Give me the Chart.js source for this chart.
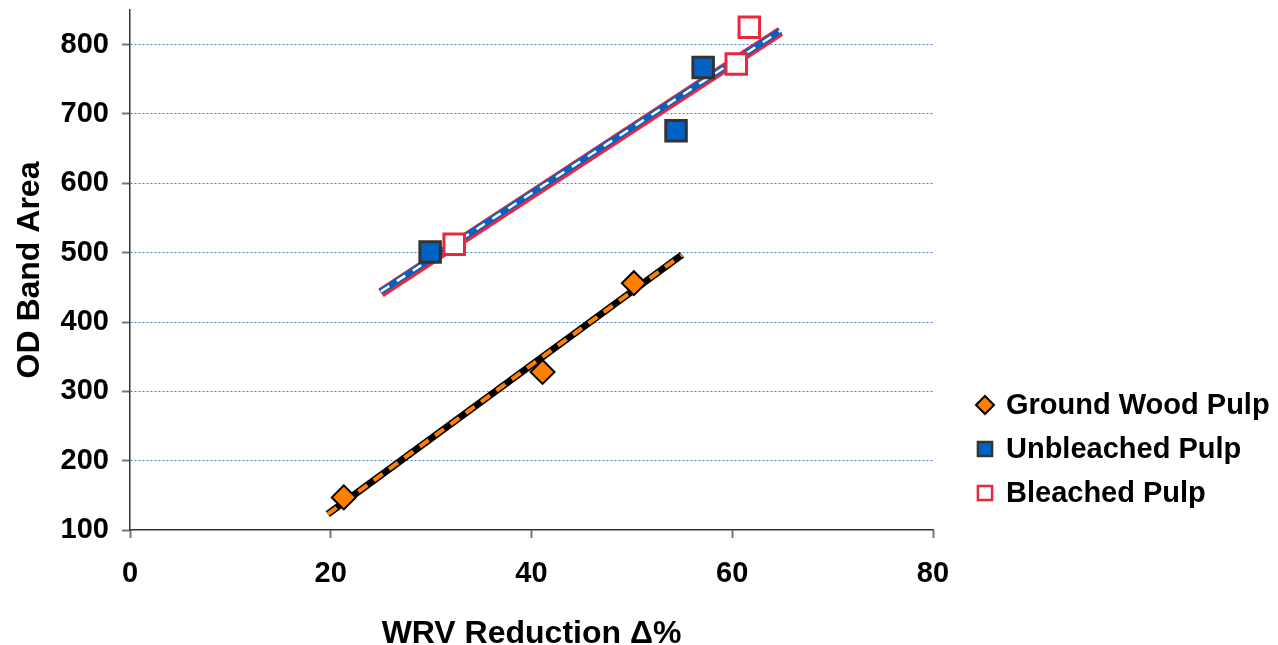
<!DOCTYPE html>
<html>
<head>
<meta charset="utf-8">
<script src="https://cdn.jsdelivr.net/npm/chart.js@4.4.1/dist/chart.umd.min.js"></script>
<style>
  html, body { margin: 0; padding: 0; background: #fff; }
  #wrap { width: 1278px; height: 645px; }
</style>
</head>
<body>
<div id="wrap"><canvas id="myChart"></canvas></div>
<script>
const seriesNames = ['Ground Wood Pulp', 'Unbleached Pulp', 'Bleached Pulp'];
const groundX = [21.3, 41.1, 50.2];
const groundY = [147, 328, 456];
const unbleachedX = [29.9, 54.4, 57.1];
const unbleachedY = [501, 676, 767];
const bleachedX = [32.3, 60.4, 61.7];
const bleachedY = [512, 772, 825];
// trend line end points
const groundTrendX = [19.7, 55.0];
const groundTrendY = [123, 497];
const unbleachedTrendX = [25.0, 64.8];
const unbleachedTrendY = [444, 820];
const bleachedTrendX = [25.0, 64.8];
const bleachedTrendY = [442, 819];
const xTicks = [0, 20, 40, 60, 80];
const yTicks = [100, 200, 300, 400, 500, 600, 700, 800];

const FONT = "'Liberation Sans', Arial, sans-serif";
const ORANGE = '#ff8000';
const BLUE = '#0062c4';
const RED = '#e8283c';

function pts(xs, ys) {
    return xs.map((x, i) => ({x: x, y: ys[i]}));
}

// legend drawn at the right, like the original
const sideLegend = {
    id: 'sideLegend',
    afterDraw(chart) {
        const ctx = chart.ctx;
        const styles = [
            {pointStyle: 'rectRot', radius: 9, fill: ORANGE, stroke: '#000', bw: 2},
            {pointStyle: 'rect', radius: 10, fill: BLUE, stroke: '#333', bw: 2.5},
            {pointStyle: 'rect', radius: 10, fill: '#fff', stroke: RED, bw: 2.5}
        ];
        ctx.save();
        ctx.font = 'bold 29px ' + FONT;
        ctx.textBaseline = 'middle';
        ctx.textAlign = 'left';
        seriesNames.forEach((name, i) => {
            const y = 405 + i * 44;
            const s = styles[i];
            ctx.fillStyle = s.fill;
            ctx.strokeStyle = s.stroke;
            ctx.lineWidth = s.bw;
            Chart.helpers.drawPoint(ctx, {pointStyle: s.pointStyle, radius: s.radius, rotation: 0, borderWidth: s.bw}, 985, y);
            ctx.fillStyle = '#000';
            ctx.fillText(name, 1006, y + 1);
        });
        ctx.restore();
    }
};

const ctx = document.getElementById('myChart').getContext('2d');
const myChart = new Chart(ctx, {
    type: 'scatter',
    data: {
        datasets: [
            {
                label: seriesNames[0],
                data: pts(groundX, groundY),
                pointStyle: 'rectRot',
                pointRadius: 12,
                backgroundColor: ORANGE,
                borderColor: '#000',
                borderWidth: 2,
                order: 0
            },
            {
                label: seriesNames[1],
                data: pts(unbleachedX, unbleachedY),
                pointStyle: 'rect',
                pointRadius: 14.5,
                backgroundColor: BLUE,
                borderColor: '#333',
                borderWidth: 3,
                order: 0
            },
            {
                label: seriesNames[2],
                data: pts(bleachedX, bleachedY),
                pointStyle: 'rect',
                pointRadius: 14.5,
                backgroundColor: '#fff',
                borderColor: RED,
                borderWidth: 3,
                order: 0
            },
            // trend lines
            {
                type: 'line', data: pts(groundTrendX, groundTrendY),
                borderColor: '#000', borderWidth: 7, pointRadius: 0, order: 5
            },
            {
                type: 'line', data: pts(groundTrendX, groundTrendY),
                borderColor: ORANGE, borderWidth: 4, borderDash: [11, 8], pointRadius: 0, order: 3
            },
            {
                type: 'line', data: pts(bleachedTrendX, bleachedTrendY),
                borderColor: RED, borderWidth: 10, pointRadius: 0, order: 6
            },
            {
                type: 'line', data: pts(unbleachedTrendX, unbleachedTrendY),
                borderColor: BLUE, borderWidth: 6, pointRadius: 0, order: 4
            },
            {
                type: 'line', data: pts(unbleachedTrendX, unbleachedTrendY),
                borderColor: '#fff', borderWidth: 2.5, borderDash: [10, 9], pointRadius: 0, order: 3
            }
        ]
    },
    options: {
        responsive: true,
        maintainAspectRatio: false,
        animation: false,
        layout: {autoPadding: false, padding: {left: 0, right: 345, top: 10, bottom: 0}},
        plugins: {
            legend: {display: false},
            tooltip: {enabled: false}
        },
        scales: {
            x: {
                type: 'linear',
                min: 0,
                max: 80,
                afterBuildTicks: s => { s.ticks = xTicks.map(v => ({value: v})); },
                afterFit: s => { s.height = 115; },
                border: {color: '#333', width: 1.5},
                grid: {drawOnChartArea: false, drawTicks: true, tickLength: 8, tickColor: '#777', tickWidth: 2},
                ticks: {color: '#000', padding: 19, font: {family: FONT, size: 29, weight: 'bold'}},
                title: {
                    display: true,
                    text: 'WRV Reduction Δ%',
                    color: '#000',
                    padding: 0,
                    font: {family: FONT, size: 32, weight: 'bold', lineHeight: 0.65}
                }
            },
            y: {
                type: 'linear',
                min: 100,
                max: 850,
                afterBuildTicks: s => { s.ticks = yTicks.map(v => ({value: v})); },
                afterFit: s => { s.width = 130; s.paddingTop = 0; s.paddingBottom = 0; },
                border: {color: '#333', width: 1.5, dash: [2, 2]},
                grid: {
                    drawOnChartArea: true,
                    color: c => c.tick && c.tick.value === 100 ? 'rgba(0,0,0,0)' : '#3a82c8',
                    lineWidth: 1,
                    drawTicks: true,
                    tickLength: 8,
                    tickColor: '#777',
                    tickWidth: 2,
                    tickBorderDash: []
                },
                ticks: {color: '#000', padding: 13, font: {family: FONT, size: 29, weight: 'bold'}},
                title: {
                    display: true,
                    text: 'OD Band Area',
                    color: '#000',
                    padding: {top: 14, bottom: 0},
                    font: {family: FONT, size: 32, weight: 'bold', lineHeight: 1}
                }
            }
        }
    },
    plugins: [sideLegend]
});
</script>
</body>
</html>
